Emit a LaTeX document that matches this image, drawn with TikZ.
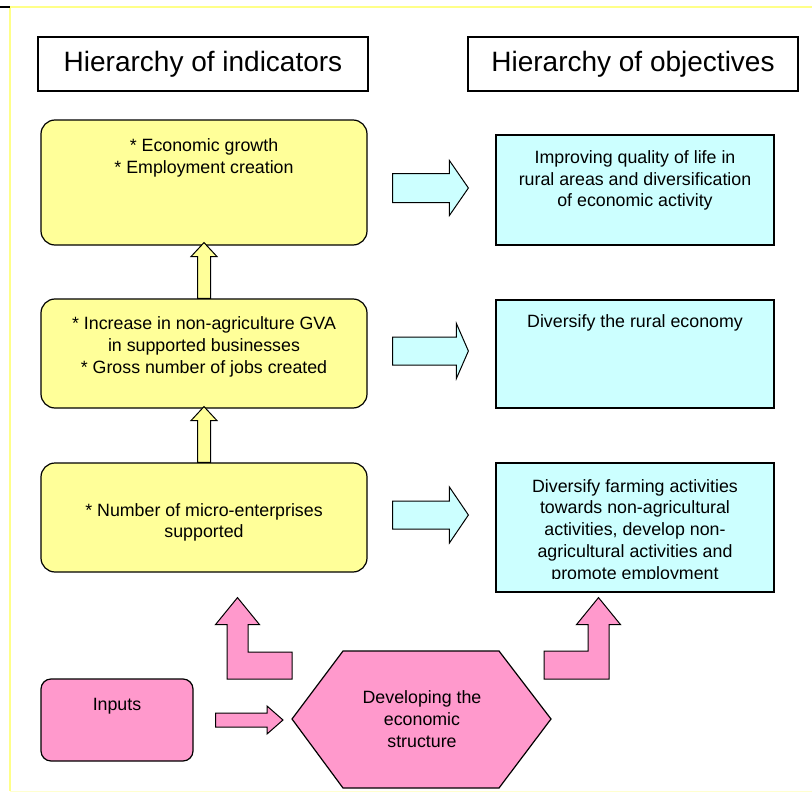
\documentclass[tikz,border=0pt]{standalone}
\usepackage{fontspec}
\setmainfont{Liberation Sans}
\usepackage{tikz}
\usetikzlibrary{calc}
\definecolor{boxyellow}{HTML}{FFFF99}
\definecolor{boxcyan}{HTML}{CCFFFF}
\definecolor{boxpink}{HTML}{FF99CC}
\definecolor{frameyellow}{HTML}{FFFF88}
\def\fatright[#1](#2)(#3)(#4:#5:#6){\draw[#1] let \p1=(#2), \p2=(#3) in (\x1,{\y1+#4pt}) -- ({\x2-#6pt},{\y1+#4pt}) -- ({\x2-#6pt},{\y1+#5pt}) -- (\x2,\y1) -- ({\x2-#6pt},{\y1-#5pt}) -- ({\x2-#6pt},{\y1-#4pt}) -- (\x1,{\y1-#4pt}) -- cycle;}
\def\fatup[#1](#2)(#3)(#4:#5:#6){\draw[#1] let \p1=(#2), \p2=(#3) in ({\x2-#4pt},\y1) -- ({\x2-#4pt},{\y2-#6pt}) -- ({\x2-#5pt},{\y2-#6pt}) -- (\x2,\y2) -- ({\x2+#5pt},{\y2-#6pt}) -- ({\x2+#4pt},{\y2-#6pt}) -- ({\x2+#4pt},\y1) -- cycle;}
\def\fatbend[#1](#2)(#3)(#4:#5:#6:#7:#8){\draw[#1] let \p1=(#2), \p2=(#3) in (\x1,{\y1+#6pt}) -- ({\x2+(#4)*#5pt},{\y1+#6pt}) -- ({\x2+(#4)*#5pt},{\y2-#8pt}) -- ({\x2+(#4)*#7pt},{\y2-#8pt}) -- (\x2,\y2) -- ({\x2-(#4)*#7pt},{\y2-#8pt}) -- ({\x2-(#4)*#5pt},{\y2-#8pt}) -- ({\x2-(#4)*#5pt},{\y1-#6pt}) -- (\x1,{\y1-#6pt}) -- cycle;}

\begin{document}
\begin{tikzpicture}[x=1pt, y=-1pt,
	titlebox/.style={draw, line width=1.2pt, minimum width=330pt, minimum height=54pt, inner sep=0pt, font=\fontsize{28}{33}\selectfont},
	ybox/.style={draw, line width=1.2pt, fill=boxyellow, rounded corners=14pt, minimum width=326pt, inner sep=0pt},
	cbox/.style={draw, line width=1.2pt, fill=boxcyan, minimum width=278pt, inner sep=0pt},
	pbox/.style={draw, line width=1.2pt, fill=boxpink, rounded corners=10pt, inner sep=0pt},
	txt/.style={align=center, inner sep=0pt, font=\fontsize{17.8}{21.7}\selectfont},
	yarrow/.style={draw, line width=1pt, fill=boxyellow},
	carrow/.style={draw, line width=1pt, fill=boxcyan},
	parrow/.style={draw, line width=1pt, fill=boxpink}]
			%%%%% START %%%%%
			\useasboundingbox (0,0) rectangle (812,792);
			\fill[white] (0,0) rectangle (812,792);
			\draw[frameyellow, line width=2pt] (10,791) -- (10,7) -- (812,7);
			\draw[frameyellow!40, line width=1pt] (10,791) -- (812,791);
			\draw[line width=2pt] (0,7) -- (10,7);
			
			\node[titlebox] (hind) at (203,64) {Hierarchy of indicators};
			\node[titlebox] (hobj) at (633,64) {Hierarchy of objectives};
			
			\node[ybox, minimum height=125pt] (ind1) at (204,182.5) {};
			\node[ybox, minimum height=109pt] (ind2) at (204,353.5) {};
			\node[ybox, minimum height=109pt] (ind3) at (204,517.5) {};
			\node[txt] (ind1txt) at (204,158) {* Economic growth\\* Employment creation};
			\node[txt] (ind2txt) at (204,347) {* Increase in non-agriculture GVA\\in supported businesses\\* Gross number of jobs created};
			\node[txt] (ind3txt) at (204,522.5) {* Number of micro-enterprises\\supported};
			
			\node[cbox, minimum height=110pt] (obj1) at (635,190) {};
			\node[cbox, minimum height=108pt] (obj2) at (635,354) {};
			\node[cbox, minimum height=129pt] (obj3) at (635,527.5) {};
			\node[txt] (obj1txt) at (635,180.5) {Improving quality of life in\\rural areas and diversification\\of economic activity};
			\node[txt] (obj2txt) at (635,323) {Diversify the rural economy};
			\begin{scope}
				\clip (496,463) rectangle (774,578);
				\node[txt] (obj3txt) at (635,531) {Diversify farming activities\\towards non-agricultural\\activities, develop non-\\agricultural activities and\\promote employment};
			\end{scope}
			
			\fatup[yarrow](ind2.north)([yshift=3pt]ind1.south)(6.5:13:14);
			\fatup[yarrow](ind3.north)([yshift=2pt]ind2.south)(6.5:13:14);
			
			\fatright[carrow]([xshift=25pt,yshift=-5.5pt]ind1.east)([xshift=-27pt]obj1.west)(14.5:27.5:19);
			\fatright[carrow]([xshift=25pt,yshift=2.5pt]ind2.east)([xshift=-27pt]obj2.west)(14:27.5:12);
			\fatright[carrow]([xshift=25pt,yshift=2.5pt]ind3.east)([xshift=-27pt]obj3.west)(14:28:19);
			
			\node[pbox, minimum width=152pt, minimum height=82pt] (inp) at (117,720) {};
			\node[txt] (inptxt) at (117,706) {Inputs};
			
			\coordinate (hw) at (292,719);
			\coordinate (hnw) at (343,651);
			\coordinate (hne) at (499,651);
			\coordinate (he) at (551,719);
			\coordinate (hse) at (499,788);
			\coordinate (hsw) at (343,788);
			\draw[parrow, line width=1.2pt] (hw) -- (hnw) -- (hne) -- (he) -- (hse) -- (hsw) -- cycle;
			\node[txt] (hex) at (422,719) {Developing the\\economic\\structure};
			
			\fatright[parrow]([xshift=22pt]inp.east)([xshift=-9pt]hw)(7:14:16);
			
			\coordinate (lTail) at ([yshift=53.5pt]hw);
			\coordinate (lTip) at ($(ind3.south)+(33.5,25)$);
			\coordinate (rTail) at ($(hne)+(45,14)$);
			\coordinate (rTip) at ($(obj3.south)+(-36.5,5)$);
			\fatbend[parrow](lTail)(lTip)(1:10.5:13.5:22:27);
			\fatbend[parrow](rTail)(rTip)(-1:10.5:14:22:27);
			%%%%% END %%%%%
\end{tikzpicture}
\end{document}
